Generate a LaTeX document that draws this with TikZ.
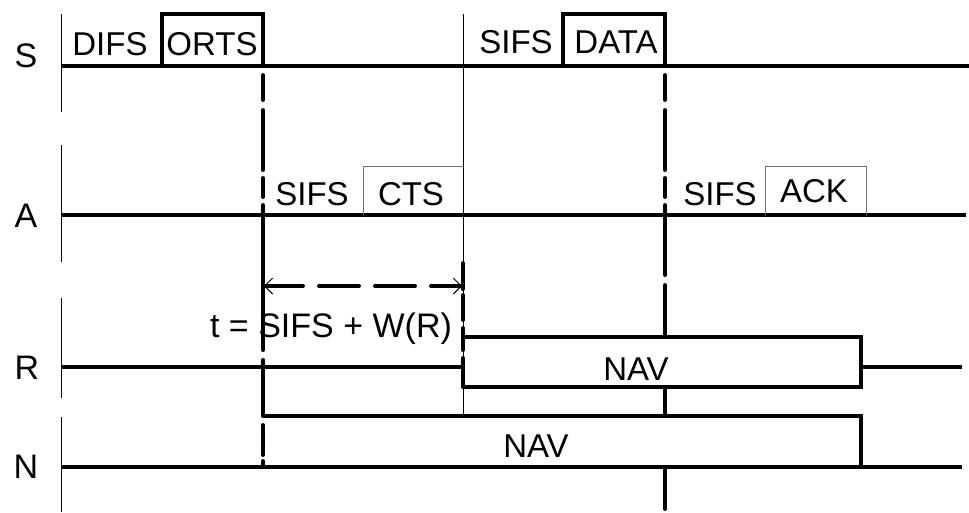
\documentclass[tikz,border=0pt]{standalone}
\usepackage{fontspec}
\setmainfont{Liberation Sans}
\usetikzlibrary{arrows.meta}
\begin{document}
\begin{tikzpicture}[x=1pt,y=-1pt,
  heavy/.style={line width=3.9pt},
  hair/.style={line width=0.9pt},
  grayhair/.style={line width=0.9pt, draw=black!55},
  seg/.style={line width=3.9pt, line cap=round},
  lbl/.style={font=\fontsize{34}{34}\selectfont, inner sep=0pt, anchor=base},
  txt/.style={font=\fontsize{33}{33}\selectfont, inner sep=0pt, anchor=base},
  barb/.style={line width=0.9pt, -{Straight Barb[length=8pt,width=16pt]}}]
\useasboundingbox (0,0) rectangle (969,512);
% axis segments
\draw[hair] (61,14) -- (61,112);
\draw[hair] (61,145) -- (61,262);
\draw[hair] (61,298) -- (61,398);
\draw[hair] (61,417) -- (61,512);
% row labels
\node[lbl] (lS) at (26,67) {S};
\node[lbl] (lA) at (26,227) {A};
\node[lbl] (lR) at (27,379) {R};
\node[lbl] (lN) at (26,478) {N};
% thin vertical at CTS end
\draw[hair] (463,14) -- (463,416);
% S row
\draw[heavy] (61,66) -- (969,66);
\draw[heavy, line join=miter] (162,66) -- (162,14) -- (263,14) -- (263,66);
\draw[heavy, line join=miter] (563,66) -- (563,14) -- (665,14) -- (665,66);
\node[txt] (difs) at (110,55) {DIFS};
\node[txt] (orts) at (212,55) {ORTS};
\node[txt] (sifs1) at (516,53) {SIFS};
\node[txt] (data) at (616,53) {DATA};
% A row
\draw[heavy] (61,215) -- (966,215);
\draw[grayhair] (363,215) -- (363,166) -- (463,166);
\draw[grayhair] (765,215) -- (765,166) -- (866,166) -- (866,215);
\node[txt] (sifs2) at (312,205) {SIFS};
\node[txt] (cts) at (411,205) {CTS};
\node[txt] (sifs3) at (720,205) {SIFS};
\node[txt] (ack) at (814,202) {ACK};
% R row
\draw[heavy] (61,367) -- (463,367);
\draw[heavy] (861,367) -- (962,367);
\draw[heavy, line join=miter] (463,337) -- (861,337) -- (861,387) -- (463,387);
\node[txt] (navR) at (636,380) {NAV};
% N row
\draw[heavy] (61,467) -- (962,467);
\draw[heavy, line join=miter] (263,416) -- (861,416) -- (861,467);
\node[txt] (navN) at (536,457) {NAV};
% vertical at RTS end
\foreach \a/\b in {75/100, 110/170, 178/197, 205/350, 360/416, 425/455, 461/467}
  \draw[seg] (263,\a) -- (263,\b);
% vertical at CTS end (R)
\foreach \a/\b in {263/289, 295/320, 328/350, 358/387}
  \draw[seg] (463,\a) -- (463,\b);
% vertical at DATA end
\foreach \a/\b in {75/100, 110/170, 178/197, 205/275, 285/337, 387/416, 467/509}
  \draw[seg] (665,\a) -- (665,\b);
% timing arrow
\coordinate (ta) at (263,286);
\coordinate (tb) at (463,286);
\draw[seg, dash pattern=on 40pt off 16pt] (ta) -- (tb);
\draw[barb] ([xshift=18pt]ta) -- ([xshift=1pt]ta);
\draw[barb] ([xshift=-18pt]tb) -- ([xshift=-1pt]tb);
\node[txt, font=\fontsize{34}{34}\selectfont] (tlab) at (331,337) {t = SIFS + W(R)};
\end{tikzpicture}
\end{document}
